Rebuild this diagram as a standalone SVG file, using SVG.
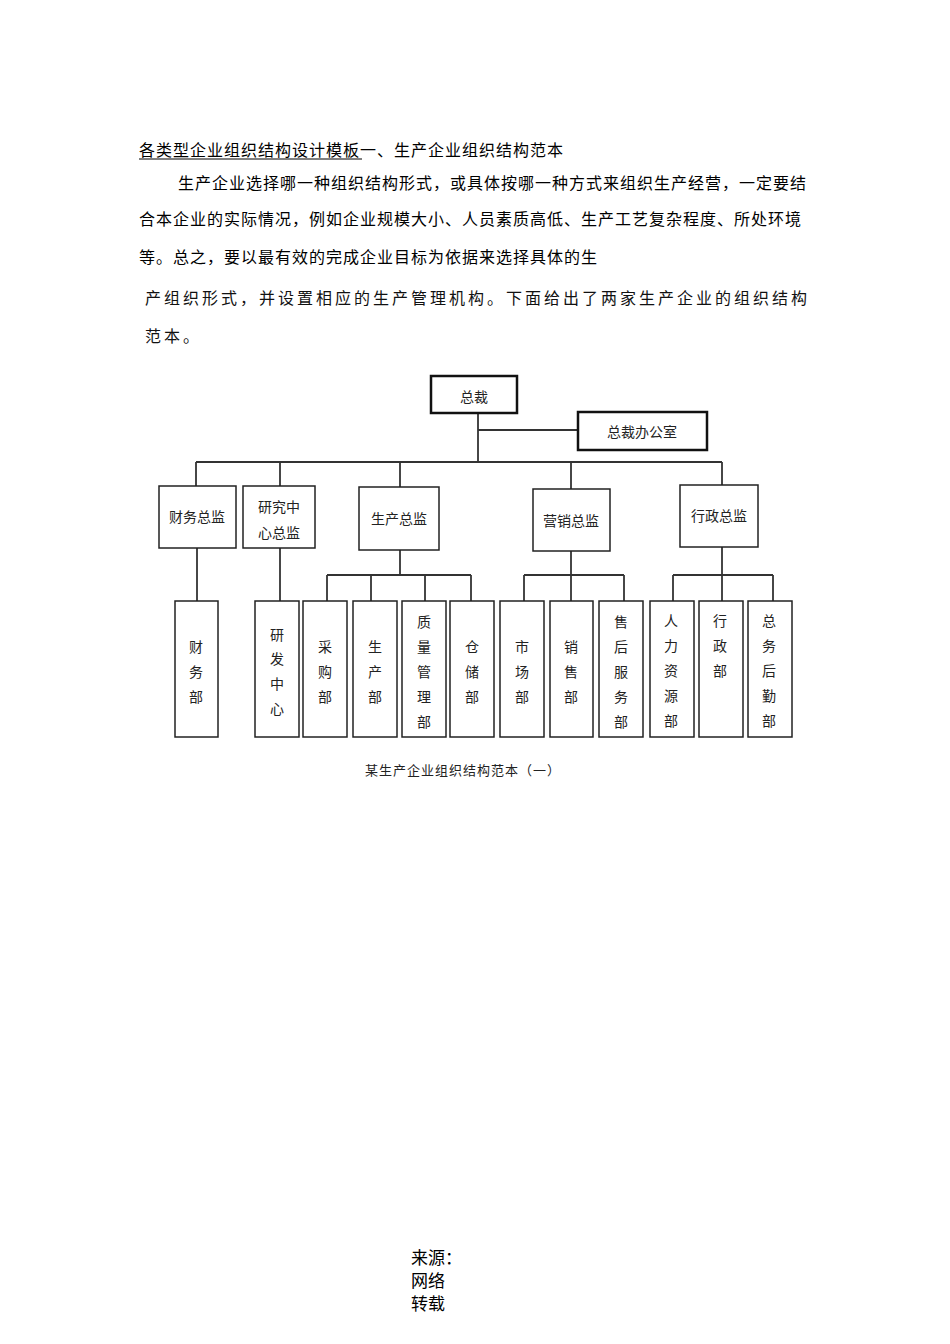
<svg xmlns="http://www.w3.org/2000/svg" width="950" height="1344" viewBox="0 0 950 1344">
<style>
.t{font-family:"Noto Sans CJK SC","Noto Sans",sans-serif;font-size:16px;fill:#000;letter-spacing:1px}
.s{font-family:"Noto Sans CJK SC",serif;font-size:16px;fill:#111;letter-spacing:3px}
.b{fill:#fff;stroke:#222;stroke-width:1.5}
.bb{fill:#fff;stroke:#111;stroke-width:2.5}
.n{font-family:"Noto Sans CJK SC",serif;font-size:14px;fill:#222;text-anchor:middle}
.c line{stroke:#333;stroke-width:1.8}
</style>
<rect width="950" height="1344" fill="#fff"/>
<text class="t" x="139" y="156">各类型企业组织结构设计模板一、生产企业组织结构范本</text>
<line x1="139" y1="159" x2="362" y2="159" stroke="#000" stroke-width="1"/>
<text class="t" x="178" y="189">生产企业选择哪一种组织结构形式，或具体按哪一种方式来组织生产经营，一定要结</text>
<text class="t" x="139" y="225">合本企业的实际情况，例如企业规模大小、人员素质高低、生产工艺复杂程度、所处环境</text>
<text class="t" x="139" y="263">等。总之，要以最有效的完成企业目标为依据来选择具体的生</text>
<text class="s" x="145" y="304">产组织形式，并设置相应的生产管理机构。下面给出了两家生产企业的组织结构</text>
<text class="s" x="145" y="342">范本。</text>
<g class="c">
<line x1="478" y1="413" x2="478" y2="462"/><line x1="478" y1="430" x2="578" y2="430"/>
<line x1="196" y1="462" x2="722" y2="462"/>
<line x1="196" y1="462" x2="196" y2="486"/><line x1="280" y1="462" x2="280" y2="486"/><line x1="400" y1="462" x2="400" y2="487"/><line x1="571" y1="462" x2="571" y2="489"/><line x1="722" y1="462" x2="722" y2="485"/>
<line x1="197" y1="548" x2="197" y2="601"/><line x1="280" y1="548" x2="280" y2="601"/>
<line x1="400" y1="550" x2="400" y2="575"/><line x1="327" y1="575" x2="471" y2="575"/>
<line x1="327" y1="575" x2="327" y2="601"/><line x1="371" y1="575" x2="371" y2="601"/><line x1="425" y1="575" x2="425" y2="601"/><line x1="471" y1="575" x2="471" y2="601"/>
<line x1="571" y1="551" x2="571" y2="601"/><line x1="524" y1="575" x2="624" y2="575"/><line x1="524" y1="575" x2="524" y2="601"/><line x1="624" y1="575" x2="624" y2="601"/>
<line x1="722" y1="547" x2="722" y2="601"/><line x1="673" y1="575" x2="773" y2="575"/><line x1="673" y1="575" x2="673" y2="601"/><line x1="773" y1="575" x2="773" y2="601"/>
</g>
<g id="ceo"><rect class="bb" x="431" y="376" width="86" height="37"/><text class="n" x="474" y="402">总裁</text></g>
<g id="office"><rect class="bb" x="578" y="412" width="129" height="38"/><text class="n" x="642" y="437">总裁办公室</text></g>
<g id="d1"><rect class="b" x="159" y="486" width="77" height="62"/><text class="n" x="197" y="522">财务总监</text></g>
<g id="d2"><rect class="b" x="243" y="486" width="72" height="62"/><text class="n" x="279" y="512">研究中</text><text class="n" x="279" y="538">心总监</text></g>
<g id="d3"><rect class="b" x="359" y="487" width="80" height="63"/><text class="n" x="399" y="524">生产总监</text></g>
<g id="d4"><rect class="b" x="533" y="489" width="77" height="62"/><text class="n" x="571" y="526">营销总监</text></g>
<g id="d5"><rect class="b" x="680" y="485" width="78" height="62"/><text class="n" x="719" y="521">行政总监</text></g>
<g id="p1"><rect class="b" x="175" y="601" width="43" height="136"/><text class="n" x="196" y="652">财</text><text class="n" x="196" y="677">务</text><text class="n" x="196" y="702">部</text></g>
<g id="p2"><rect class="b" x="255" y="601" width="44" height="136"/><text class="n" x="277" y="640">研</text><text class="n" x="277" y="664">发</text><text class="n" x="277" y="689">中</text><text class="n" x="277" y="714">心</text></g>
<g id="p3"><rect class="b" x="303" y="601" width="44" height="136"/><text class="n" x="325" y="652">采</text><text class="n" x="325" y="677">购</text><text class="n" x="325" y="702">部</text></g>
<g id="p4"><rect class="b" x="353" y="601" width="44" height="136"/><text class="n" x="375" y="652">生</text><text class="n" x="375" y="677">产</text><text class="n" x="375" y="702">部</text></g>
<g id="p5"><rect class="b" x="402" y="601" width="44" height="136"/><text class="n" x="424" y="627">质</text><text class="n" x="424" y="652">量</text><text class="n" x="424" y="677">管</text><text class="n" x="424" y="702">理</text><text class="n" x="424" y="727">部</text></g>
<g id="p6"><rect class="b" x="450" y="601" width="44" height="136"/><text class="n" x="472" y="652">仓</text><text class="n" x="472" y="677">储</text><text class="n" x="472" y="702">部</text></g>
<g id="p7"><rect class="b" x="500" y="601" width="44" height="136"/><text class="n" x="522" y="652">市</text><text class="n" x="522" y="677">场</text><text class="n" x="522" y="702">部</text></g>
<g id="p8"><rect class="b" x="550" y="601" width="43" height="136"/><text class="n" x="571" y="652">销</text><text class="n" x="571" y="677">售</text><text class="n" x="571" y="702">部</text></g>
<g id="p9"><rect class="b" x="599" y="601" width="44" height="136"/><text class="n" x="621" y="627">售</text><text class="n" x="621" y="652">后</text><text class="n" x="621" y="677">服</text><text class="n" x="621" y="702">务</text><text class="n" x="621" y="727">部</text></g>
<g id="p10"><rect class="b" x="650" y="601" width="44" height="136"/><text class="n" x="671" y="626">人</text><text class="n" x="671" y="651">力</text><text class="n" x="671" y="676">资</text><text class="n" x="671" y="701">源</text><text class="n" x="671" y="726">部</text></g>
<g id="p11"><rect class="b" x="699" y="601" width="44" height="136"/><text class="n" x="720" y="626">行</text><text class="n" x="720" y="651">政</text><text class="n" x="720" y="676">部</text></g>
<g id="p12"><rect class="b" x="748" y="601" width="44" height="136"/><text class="n" x="769" y="626">总</text><text class="n" x="769" y="651">务</text><text class="n" x="769" y="676">后</text><text class="n" x="769" y="701">勤</text><text class="n" x="769" y="726">部</text></g>
<text class="n" x="463" y="775" style="font-size:13px;letter-spacing:1px">某生产企业组织结构范本（一）</text>
<g style="font-family:'Noto Sans CJK SC',serif;font-size:17px;fill:#000">
<text x="411" y="1264">来源：</text><text x="411" y="1287">网络</text><text x="411" y="1310">转载</text></g>
</svg>
